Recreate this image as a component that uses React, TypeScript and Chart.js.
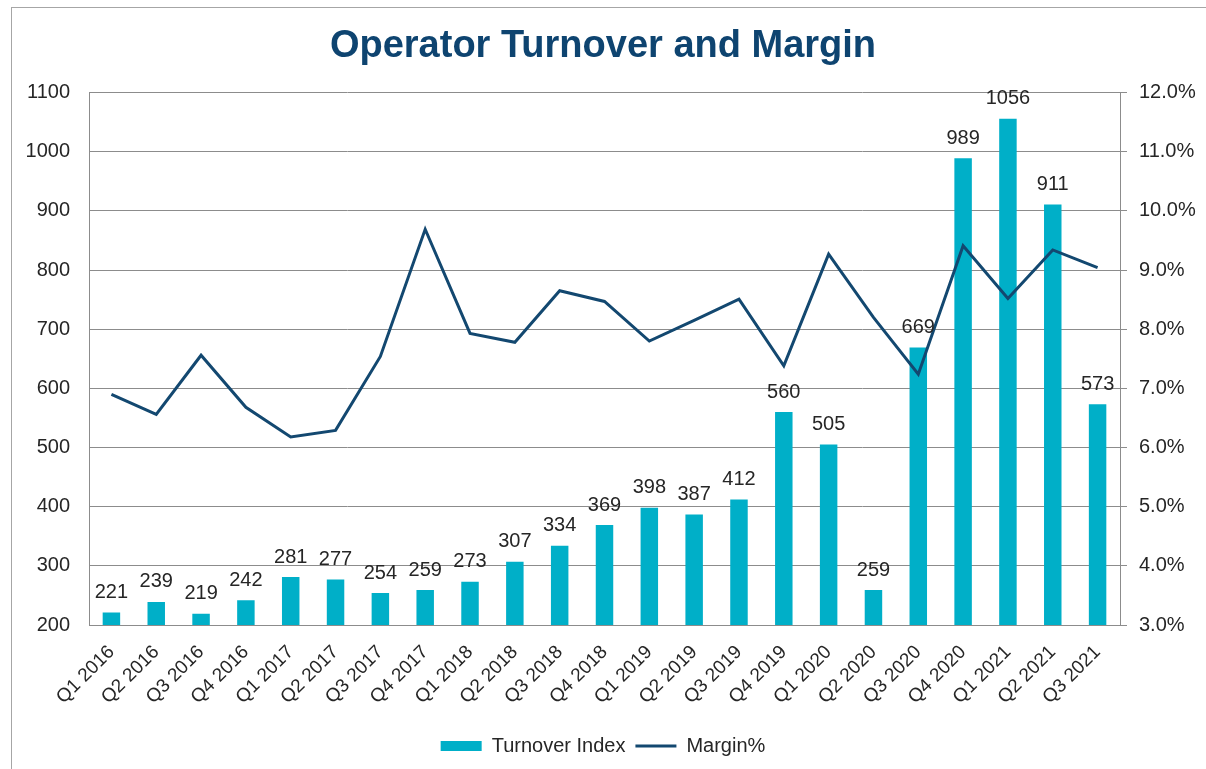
import React, { useEffect, useRef } from "react";
import { Chart, registerables } from "chart.js";

Chart.register(...registerables);

const categories = [
  "Q1 2016", "Q2 2016", "Q3 2016", "Q4 2016",
  "Q1 2017", "Q2 2017", "Q3 2017", "Q4 2017",
  "Q1 2018", "Q2 2018", "Q3 2018", "Q4 2018",
  "Q1 2019", "Q2 2019", "Q3 2019", "Q4 2019",
  "Q1 2020", "Q2 2020", "Q3 2020", "Q4 2020",
  "Q1 2021", "Q2 2021", "Q3 2021",
];

const turnoverIndex = [
  221, 239, 219, 242, 281, 277, 254, 259, 273, 307, 334, 369,
  398, 387, 412, 560, 505, 259, 669, 989, 1056, 911, 573,
];

const marginPct = [
  6.90, 6.56, 7.56, 6.68, 6.18, 6.29, 7.54, 9.69, 7.93, 7.78, 8.65, 8.47,
  7.80, 8.15, 8.51, 7.38, 9.27, 8.20, 7.24, 9.41, 8.52, 9.34, 9.04,
];

const leftTicks = { min: 200, max: 1100, step: 100 };
const rightTicks = { min: 3, max: 12, step: 1 };

const FONT = "'Liberation Sans', Arial, sans-serif";
const BAR_COLOR = "#00AFC8";
const LINE_COLOR = "#134870";
const TITLE_COLOR = "#0E4470";
const GRID_COLOR = "#8c8c8c";
const TEXT_COLOR = "#262626";

const barLabelPlugin = {
  id: "barLabels",
  afterDatasetsDraw(chart: any) {
    const meta = chart.getDatasetMeta(0);
    const ctx = chart.ctx;
    ctx.save();
    ctx.font = `20px ${FONT}`;
    ctx.fillStyle = TEXT_COLOR;
    ctx.textAlign = "center";
    ctx.textBaseline = "middle";
    meta.data.forEach((el: any, i: number) => {
      ctx.fillText(String(turnoverIndex[i]), el.x, el.y - 20);
    });
    ctx.restore();
  },
};

export default function App() {
  const canvasRef = useRef<HTMLCanvasElement | null>(null);

  useEffect(() => {
    if (!canvasRef.current) return;
    const chart = new Chart(canvasRef.current, {
      type: "bar",
      data: {
        labels: categories,
        datasets: [
          {
            type: "bar",
            label: "Turnover Index",
            data: turnoverIndex,
            backgroundColor: BAR_COLOR,
            borderWidth: 0,
            yAxisID: "y",
            order: 1,
            categoryPercentage: 1,
            barPercentage: 0.39,
          } as any,
          {
            type: "line",
            label: "Margin%",
            data: marginPct,
            borderColor: LINE_COLOR,
            backgroundColor: LINE_COLOR,
            borderWidth: 3,
            pointRadius: 0,
            tension: 0,
            yAxisID: "y1",
            order: 0,
          } as any,
        ],
      },
      plugins: [barLabelPlugin],
      options: {
        responsive: false,
        animation: false,
        devicePixelRatio: 1,
        layout: { padding: { left: 0, right: 0, top: 0, bottom: 3 } },
        plugins: {
          tooltip: { enabled: false },
          title: {
            display: true,
            text: "Operator Turnover and Margin",
            color: TITLE_COLOR,
            font: { family: FONT, size: 38, weight: "bold" },
            padding: { top: 24, bottom: 23 },
          },
          legend: {
            display: true,
            position: "bottom",
            labels: {
              usePointStyle: true,
              pointStyleWidth: 41,
              boxHeight: 10,
              color: TEXT_COLOR,
              font: { family: FONT, size: 20 },
              padding: 10,
              generateLabels: (chart: any) => {
                return chart.data.datasets.map((ds: any, i: number) => {
                  const isBar = i === 0;
                  const color = isBar ? BAR_COLOR : LINE_COLOR;
                  return {
                    text: ds.label,
                    datasetIndex: i,
                    fillStyle: color,
                    strokeStyle: color,
                    fontColor: TEXT_COLOR,
                    lineWidth: isBar ? 0 : 3,
                    pointStyle: isBar ? "rect" : "line",
                    hidden: false,
                  };
                });
              },
            },
          },
        },
        scales: {
          x: {
            grid: { display: false },
            border: { display: true, color: GRID_COLOR },
            ticks: {
              color: TEXT_COLOR,
              font: { family: FONT, size: 19 },
              maxRotation: 45,
              minRotation: 45,
              autoSkip: false,
              padding: 8,
            },
            afterFit: (s: any) => {
              s.height = 101;
            },
          },
          y: {
            position: "left",
            min: leftTicks.min,
            max: leftTicks.max,
            grid: { color: GRID_COLOR, lineWidth: 1, drawTicks: false },
            border: { display: true, color: GRID_COLOR },
            ticks: {
              stepSize: leftTicks.step,
              color: TEXT_COLOR,
              font: { family: FONT, size: 20 },
              padding: 19,
              callback: (v: any) => String(v),
            },
            afterFit: (s: any) => {
              s.width = 89;
            },
          },
          y1: {
            position: "right",
            min: rightTicks.min,
            max: rightTicks.max,
            grid: {
              drawOnChartArea: false,
              drawTicks: true,
              tickLength: 7,
              color: GRID_COLOR,
            },
            border: { display: true, color: GRID_COLOR },
            ticks: {
              stepSize: rightTicks.step,
              color: TEXT_COLOR,
              font: { family: FONT, size: 20 },
              padding: 12,
              callback: (v: any) => Number(v).toFixed(1) + "%",
            },
            afterFit: (s: any) => {
              s.width = 86;
            },
          },
        },
      } as any,
    });
    return () => chart.destroy();
  }, []);

  return (
    <div
      style={{
        position: "fixed",
        left: 0,
        top: 0,
        width: 1206,
        height: 769,
        overflow: "hidden",
        background: "#ffffff",
      }}
    >
      <div
        style={{
          position: "absolute",
          left: 11,
          top: 7,
          width: 1400,
          height: 1000,
          border: "1px solid #a6a6a6",
        }}
      />
      <canvas
        ref={canvasRef}
        width={1206}
        height={769}
        style={{ position: "absolute", left: 0, top: 0, width: 1206, height: 769 }}
      />
    </div>
  );
}
